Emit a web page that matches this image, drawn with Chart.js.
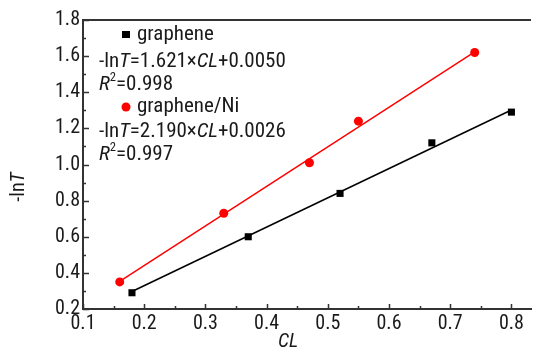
<!DOCTYPE html>
<html>
<head>
<meta charset="utf-8">
<script src="https://cdn.jsdelivr.net/npm/chart.js@4.4.1/dist/chart.umd.min.js"></script>
<style>
  html, body { margin: 0; padding: 0; background: #fff; }
  #wrap { width: 536px; height: 352px; position: relative; }
</style>
</head>
<body>
<div id="wrap"><canvas id="fit-chart"></canvas></div>
<script>
// measured points
const grapheneCL = [0.18, 0.37, 0.52, 0.67, 0.80];
const grapheneLnT = [0.29, 0.60, 0.84, 1.12, 1.29];
const nickelCL = [0.16, 0.33, 0.47, 0.55, 0.74];
const nickelLnT = [0.35, 0.73, 1.01, 1.24, 1.62];

// fitted line ends
const grapheneFitCL = [0.18, 0.80];
const grapheneFitLnT = [0.297, 1.302];
const nickelFitCL = [0.16, 0.74];
const nickelFitLnT = [0.353, 1.623];

// axis ticks
const xMajorTicks = [0.1, 0.2, 0.3, 0.4, 0.5, 0.6, 0.7, 0.8];
const xTickLabels = ["0.1", "0.2", "0.3", "0.4", "0.5", "0.6", "0.7", "0.8"];
const xMinorTicks = [0.15, 0.25, 0.35, 0.45, 0.55, 0.65, 0.75];
const yMajorTicks = [0.2, 0.4, 0.6, 0.8, 1.0, 1.2, 1.4, 1.6, 1.8];
const yTickLabels = ["0.2", "0.4", "0.6", "0.8", "1.0", "1.2", "1.4", "1.6", "1.8"];
const yMinorTicks = [0.3, 0.5, 0.7, 0.9, 1.1, 1.3, 1.5, 1.7];

const FONT = '"Roboto Condensed", "Liberation Sans", Arial, sans-serif';
const AXIS_COLOR = "#333";
const TEXT_COLOR = "#1a1a1a";

function toPoints(xs, ys) {
  return xs.map((x, i) => ({ x, y: ys[i] }));
}

function labelFor(values, labels) {
  return function (value) {
    const i = values.findIndex((v) => Math.abs(v - value) < 1e-6);
    return i >= 0 ? labels[i] : "";
  };
}

// draw a line of text made of runs: { t, italic, sup }
function drawRuns(ctx, runs, x, y, size) {
  let cx = x;
  runs.forEach((r) => {
    const s = r.sup ? size * 0.6 : size;
    ctx.font = (r.italic ? "italic " : "") + s + "px " + FONT;
    ctx.fillText(r.t, cx, r.sup ? y - size * 0.35 : y);
    cx += ctx.measureText(r.t).width;
  });
}

function runsWidth(ctx, runs, size) {
  let w = 0;
  runs.forEach((r) => {
    const s = r.sup ? size * 0.6 : size;
    ctx.font = (r.italic ? "italic " : "") + s + "px " + FONT;
    w += ctx.measureText(r.t).width;
  });
  return w;
}

const decorPlugin = {
  id: "decor",
  afterDatasetsDraw(chart) {
    const ctx = chart.ctx;
    const area = chart.chartArea;
    const xs = chart.scales.x;
    const ys = chart.scales.y;
    ctx.save();

    // top frame line
    ctx.strokeStyle = AXIS_COLOR;
    ctx.lineWidth = 2;
    ctx.beginPath();
    ctx.moveTo(area.left - 1, area.top);
    ctx.lineTo(area.right, area.top);
    ctx.stroke();

    // inward ticks
    ctx.lineWidth = 1.5;
    ctx.beginPath();
    xMajorTicks.forEach((v) => {
      const px = Math.round(xs.getPixelForValue(v)) + 0.5;
      ctx.moveTo(px, area.bottom);
      ctx.lineTo(px, area.bottom - 5);
    });
    xMinorTicks.forEach((v) => {
      const px = Math.round(xs.getPixelForValue(v)) + 0.5;
      ctx.moveTo(px, area.bottom);
      ctx.lineTo(px, area.bottom - 3);
    });
    yMajorTicks.forEach((v) => {
      const py = Math.round(ys.getPixelForValue(v)) + 0.5;
      ctx.moveTo(area.left, py);
      ctx.lineTo(area.left + 6, py);
    });
    yMinorTicks.forEach((v) => {
      const py = Math.round(ys.getPixelForValue(v)) + 0.5;
      ctx.moveTo(area.left, py);
      ctx.lineTo(area.left + 3, py);
    });
    ctx.stroke();

    // axis titles
    ctx.fillStyle = TEXT_COLOR;
    ctx.textBaseline = "middle";
    const yTitle = [{ t: "-ln" }, { t: "T", italic: true }];
    ctx.save();
    ctx.translate(19, 187);
    ctx.rotate(-Math.PI / 2);
    drawRuns(ctx, yTitle, -runsWidth(ctx, yTitle, 20) / 2, 0, 20);
    ctx.restore();
    const xTitle = [{ t: "CL", italic: true }];
    drawRuns(ctx, xTitle, 288 - runsWidth(ctx, xTitle, 20) / 2, 342, 20);

    // legend block
    const size = 21;
    ctx.fillStyle = "#000";
    ctx.fillRect(122, 31, 8, 7);
    ctx.fillStyle = "#ff0000";
    ctx.beginPath();
    ctx.arc(126, 107, 4.5, 0, Math.PI * 2);
    ctx.fill();

    ctx.fillStyle = TEXT_COLOR;
    drawRuns(ctx, [{ t: "graphene" }], 137, 35, size);
    drawRuns(ctx, [{ t: "-ln" }, { t: "T", italic: true }, { t: "=1.621×" }, { t: "CL", italic: true }, { t: "+0.0050" }], 99, 62, size);
    drawRuns(ctx, [{ t: "R", italic: true }, { t: "2", sup: true }, { t: "=0.998" }], 99, 85, size);
    drawRuns(ctx, [{ t: "graphene/Ni" }], 137, 107, size);
    drawRuns(ctx, [{ t: "-ln" }, { t: "T", italic: true }, { t: "=2.190×" }, { t: "CL", italic: true }, { t: "+0.0026" }], 99, 132, size);
    drawRuns(ctx, [{ t: "R", italic: true }, { t: "2", sup: true }, { t: "=0.997" }], 99, 155, size);

    ctx.restore();
  },
};

const ctx = document.getElementById("fit-chart").getContext("2d");

new Chart(ctx, {
  type: "scatter",
  data: {
    datasets: [
      {
        label: "graphene fit",
        data: toPoints(grapheneFitCL, grapheneFitLnT),
        showLine: true,
        borderColor: "#000",
        borderWidth: 1.5,
        pointRadius: 0,
      },
      {
        label: "graphene/Ni fit",
        data: toPoints(nickelFitCL, nickelFitLnT),
        showLine: true,
        borderColor: "#ff0000",
        borderWidth: 1.5,
        pointRadius: 0,
      },
      {
        label: "graphene",
        data: toPoints(grapheneCL, grapheneLnT),
        pointStyle: "rect",
        pointRadius: 5,
        backgroundColor: "#000",
        borderWidth: 0,
      },
      {
        label: "graphene/Ni",
        data: toPoints(nickelCL, nickelLnT),
        pointStyle: "circle",
        pointRadius: 4.5,
        backgroundColor: "#ff0000",
        borderWidth: 0,
      },
    ],
  },
  options: {
    responsive: true,
    maintainAspectRatio: false,
    animation: false,
    layout: { padding: { top: 20, right: 0, left: 0, bottom: 0 } },
    plugins: {
      legend: { display: false },
      tooltip: { enabled: false },
    },
    scales: {
      x: {
        type: "linear",
        min: 0.1,
        max: 0.832,
        afterBuildTicks: (scale) => {
          scale.ticks = xMajorTicks.map((v) => ({ value: v }));
        },
        afterFit: (scale) => {
          scale.height = 43;
        },
        grid: { display: false, drawTicks: false },
        border: { display: true, color: AXIS_COLOR, width: 2 },
        ticks: {
          color: TEXT_COLOR,
          font: { family: FONT, size: 20 },
          padding: 3,
          maxRotation: 0,
          autoSkip: false,
          callback: labelFor(xMajorTicks, xTickLabels),
        },
      },
      y: {
        type: "linear",
        min: 0.2,
        max: 1.8,
        afterBuildTicks: (scale) => {
          scale.ticks = yMajorTicks.map((v) => ({ value: v }));
        },
        afterFit: (scale) => {
          scale.width = 83;
        },
        grid: { display: false, drawTicks: false },
        border: { display: true, color: AXIS_COLOR, width: 2 },
        ticks: {
          color: TEXT_COLOR,
          font: { family: FONT, size: 20 },
          padding: 3,
          autoSkip: false,
          callback: labelFor(yMajorTicks, yTickLabels),
        },
      },
    },
  },
  plugins: [decorPlugin],
});
</script>
</body>
</html>
